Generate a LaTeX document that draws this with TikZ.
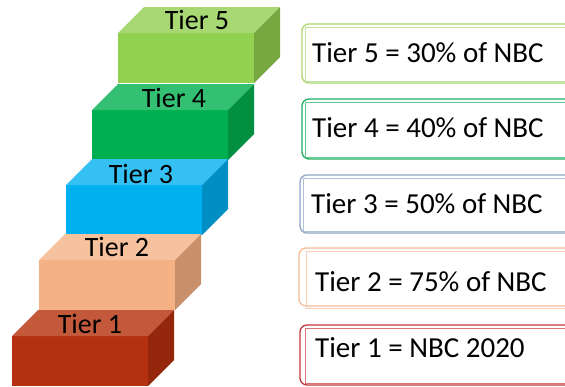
\documentclass[tikz,border=0pt]{standalone}
\usepackage{fontspec}
\setmainfont{Carlito}
\definecolor{gFront}{HTML}{92D050}
\definecolor{gTop}{HTML}{A8D873}
\definecolor{gSide}{HTML}{76A83F}
\definecolor{dFront}{HTML}{00B050}
\definecolor{dTop}{HTML}{33C072}
\definecolor{dSide}{HTML}{00903F}
\definecolor{bFront}{HTML}{00B0F0}
\definecolor{bTop}{HTML}{35C0F4}
\definecolor{bSide}{HTML}{008FC4}
\definecolor{oFront}{HTML}{F4B183}
\definecolor{oTop}{HTML}{F6C29D}
\definecolor{oSide}{HTML}{C8906A}
\definecolor{rFront}{HTML}{B4300E}
\definecolor{rTop}{HTML}{C4583A}
\definecolor{rSide}{HTML}{93260B}
\definecolor{box5}{HTML}{A9D870}
\definecolor{box4}{HTML}{20B060}
\definecolor{box3}{HTML}{8EA4C8}
\definecolor{box2}{HTML}{F6BC94}
\definecolor{box1}{HTML}{C83838}
\newcommand\tierblock[5]{%
  \fill[#3] (#1,#2) rectangle ++(136,50);
  \fill[#4] (#1,#2) -- ++(26,-26) -- ++(136,0) -- ++(-26,26) -- cycle;
  \fill[#5] (#1+136,#2) -- ++(26,-26) -- ++(0,50) -- ++(-26,26) -- cycle;
}
\newcommand\tierframe[9]{%
  % #1 color, #2 x, #3 top, #4 bottom, #5 inner x, #6 inner top, #7 inner bottom
  \draw[#1, line width=1.3pt, rounded corners=7pt] (#2,#3) rectangle (640,#4);
  \draw[#1!70, line width=0.9pt] (#5,#6) rectangle (640,#7);
}
\begin{document}
\begin{tikzpicture}[x=1pt,y=-1pt,
  lbl/.style={font=\fontsize{28}{30}\selectfont, anchor=base, inner sep=0pt},
  txt/.style={font=\fontsize{29}{31}\selectfont, anchor=base west, inner sep=0pt}]
\useasboundingbox (0,0) rectangle (565,386);
\clip (0,0) rectangle (565,386);
\fill[white] (0,0) rectangle (565,386);

\tierblock{118}{33}{gFront}{gTop}{gSide}
\tierblock{92}{110}{dFront}{dTop}{dSide}
\tierblock{66}{185}{bFront}{bTop}{bSide}
\tierblock{39}{260}{oFront}{oTop}{oSide}
\tierblock{12}{336}{rFront}{rTop}{rSide}

\node[lbl] (t5) at (197,29) {Tier 5};
\node[lbl] (t4) at (174,107) {Tier 4};
\node[lbl] (t3) at (141,183) {Tier 3};
\node[lbl] (t2) at (117,256) {Tier 2};
\node[lbl] (t1) at (90,333) {Tier 1};

\tierframe{box5}{302}{24}{83}{305}{27}{81}{}{}
\tierframe{box4}{302}{99}{159}{305}{102}{157}{}{}
\tierframe{box3}{300}{175}{233}{303}{178}{231}{}{}
\tierframe{box2}{299}{248}{306}{306}{251}{308}{}{}
\tierframe{box1}{300}{325}{385}{305}{328}{383}{}{}

\node[txt] (b5) at (312,62) {Tier 5 = 30\% of NBC};
\node[txt] (b4) at (312,137) {Tier 4 = 40\% of NBC};
\node[txt] (b3) at (311,213) {Tier 3 = 50\% of NBC};
\node[txt] (b2) at (315,291) {Tier 2 = 75\% of NBC};
\node[txt] (b1) at (315,357) {Tier 1 = NBC 2020};
\end{tikzpicture}
\end{document}
